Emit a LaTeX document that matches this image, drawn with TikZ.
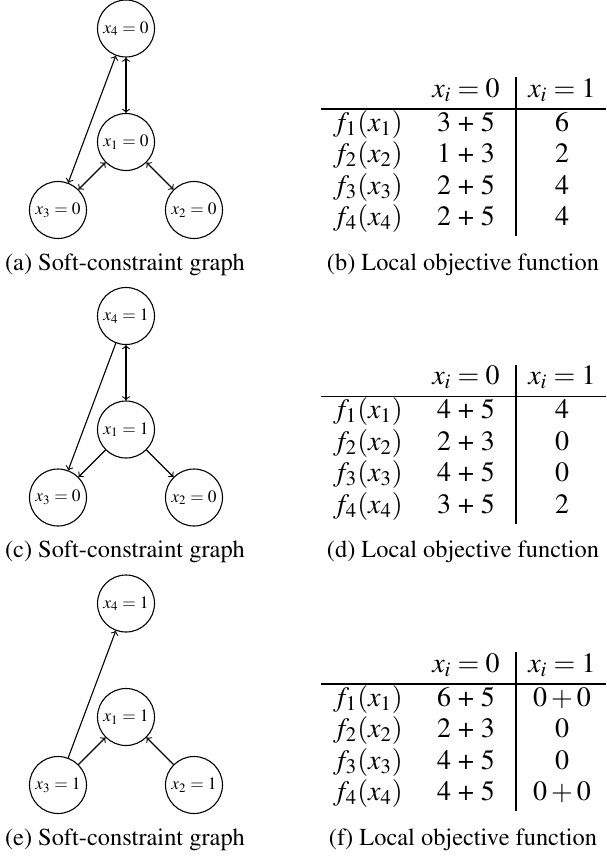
\documentclass[tikz,border=0pt]{standalone}
\usepackage[T1]{fontenc}
\usepackage{mathptmx}
\tikzset{
  var/.style={circle,draw,line width=0.55pt,minimum size=28.5pt,inner sep=0pt,font=\fontsize{8.7}{10}\selectfont},
  edge/.style={line width=0.55pt},
  captext/.style={anchor=base,inner sep=0pt,font=\fontsize{12.2}{14}\selectfont},
  cell/.style={anchor=base,inner sep=0pt,font=\fontsize{14}{16}\selectfont},
  rulel/.style={line width=0.6pt}
}
\begin{document}
\begin{tikzpicture}[x=0.5pt,y=-0.5pt]
\useasboundingbox (0,0) rectangle (606,857);
% ---------- panel (a)
\node[var] (a4) at (126,28.5) {$x_4=0$};
\node[var] (a1) at (126,142) {$x_1=0$};
\node[var] (a3) at (58,210) {$x_3=0$};
\node[var] (a2) at (194,210) {$x_2=0$};
\draw[edge,<->] (a4) -- (a1);
\draw[edge,<->] (a4) -- (a3);
\draw[edge,<->] (a1) -- (a3);
\draw[edge,<->] (a1) -- (a2);
\node[captext] (capa) at (125,270) {(a) Soft-constraint graph};
% ---------- table (b)
\node[cell] (bh2) at (466,97) {$x_i=0$};
\node[cell] (bh3) at (562,97) {$x_i=1$};
\node[cell] (bf1) at (368,131) {$f_1(x_1)$};
\node[cell] (bf2) at (368,162.5) {$f_2(x_2)$};
\node[cell] (bf3) at (368,194) {$f_3(x_3)$};
\node[cell] (bf4) at (368,225.5) {$f_4(x_4)$};
\node[cell] (b12) at (466,131) {3 + 5};
\node[cell] (b22) at (466,162.5) {1 + 3};
\node[cell] (b32) at (466,194) {2 + 5};
\node[cell] (b42) at (466,225.5) {2 + 5};
\node[cell] (b13) at (562,131) {6};
\node[cell] (b23) at (562,162.5) {2};
\node[cell] (b33) at (562,194) {4};
\node[cell] (b43) at (562,225.5) {4};
\coordinate (bhl) at (321,109);
\coordinate (bhr) at (606,109);
\coordinate (bvt) at (516,77);
\coordinate (bvb) at (516,236);
\draw[rulel] (bhl) -- (bhr);
\draw[rulel] (bvt) -- (bvb);
\node[captext] (capb) at (463,270) {(b) Local objective function};
% ---------- panel (c)
\node[var] (c4) at (126,316) {$x_4=1$};
\node[var] (c1) at (126,429.5) {$x_1=1$};
\node[var] (c3) at (58,497.5) {$x_3=0$};
\node[var] (c2) at (194,497.5) {$x_2=0$};
\draw[edge,<->] (c4) -- (c1);
\draw[edge,->] (c4) -- (c3);
\draw[edge,->] (c1) -- (c3);
\draw[edge,->] (c1) -- (c2);
\node[captext] (capc) at (125,557.5) {(c) Soft-constraint graph};
% ---------- table (d)
\node[cell] (dh2) at (466,384.5) {$x_i=0$};
\node[cell] (dh3) at (562,384.5) {$x_i=1$};
\node[cell] (df1) at (368,418.5) {$f_1(x_1)$};
\node[cell] (df2) at (368,450) {$f_2(x_2)$};
\node[cell] (df3) at (368,481.5) {$f_3(x_3)$};
\node[cell] (df4) at (368,513) {$f_4(x_4)$};
\node[cell] (d12) at (466,418.5) {4 + 5};
\node[cell] (d22) at (466,450) {2 + 3};
\node[cell] (d32) at (466,481.5) {4 + 5};
\node[cell] (d42) at (466,513) {3 + 5};
\node[cell] (d13) at (562,418.5) {4};
\node[cell] (d23) at (562,450) {0};
\node[cell] (d33) at (562,481.5) {0};
\node[cell] (d43) at (562,513) {2};
\coordinate (dhl) at (321,396.5);
\coordinate (dhr) at (606,396.5);
\coordinate (dvt) at (516,364.5);
\coordinate (dvb) at (516,523.5);
\draw[rulel] (dhl) -- (dhr);
\draw[rulel] (dvt) -- (dvb);
\node[captext] (capd) at (463,557.5) {(d) Local objective function};
% ---------- panel (e)
\node[var] (e4) at (126,603.5) {$x_4=1$};
\node[var] (e1) at (126,717) {$x_1=1$};
\node[var] (e3) at (58,785) {$x_3=1$};
\node[var] (e2) at (194,785) {$x_2=1$};
\draw[edge,->] (e3) -- (e4);
\draw[edge,->] (e3) -- (e1);
\draw[edge,->] (e2) -- (e1);
\node[captext] (cape) at (125,845) {(e) Soft-constraint graph};
% ---------- table (f)
\node[cell] (fh2) at (466,672) {$x_i=0$};
\node[cell] (fh3) at (562,672) {$x_i=1$};
\node[cell] (ff1) at (368,706) {$f_1(x_1)$};
\node[cell] (ff2) at (368,737.5) {$f_2(x_2)$};
\node[cell] (ff3) at (368,769) {$f_3(x_3)$};
\node[cell] (ff4) at (368,800.5) {$f_4(x_4)$};
\node[cell] (f12) at (466,706) {6 + 5};
\node[cell] (f22) at (466,737.5) {2 + 3};
\node[cell] (f32) at (466,769) {4 + 5};
\node[cell] (f42) at (466,800.5) {4 + 5};
\node[cell] (f13) at (562,706) {$0+0$};
\node[cell] (f23) at (562,737.5) {0};
\node[cell] (f33) at (562,769) {0};
\node[cell] (f43) at (562,800.5) {$0+0$};
\coordinate (fhl) at (321,684);
\coordinate (fhr) at (606,684);
\coordinate (fvt) at (516,652);
\coordinate (fvb) at (516,811);
\draw[rulel] (fhl) -- (fhr);
\draw[rulel] (fvt) -- (fvb);
\node[captext] (capf) at (463,845) {(f) Local objective function};
\end{tikzpicture}
\end{document}
